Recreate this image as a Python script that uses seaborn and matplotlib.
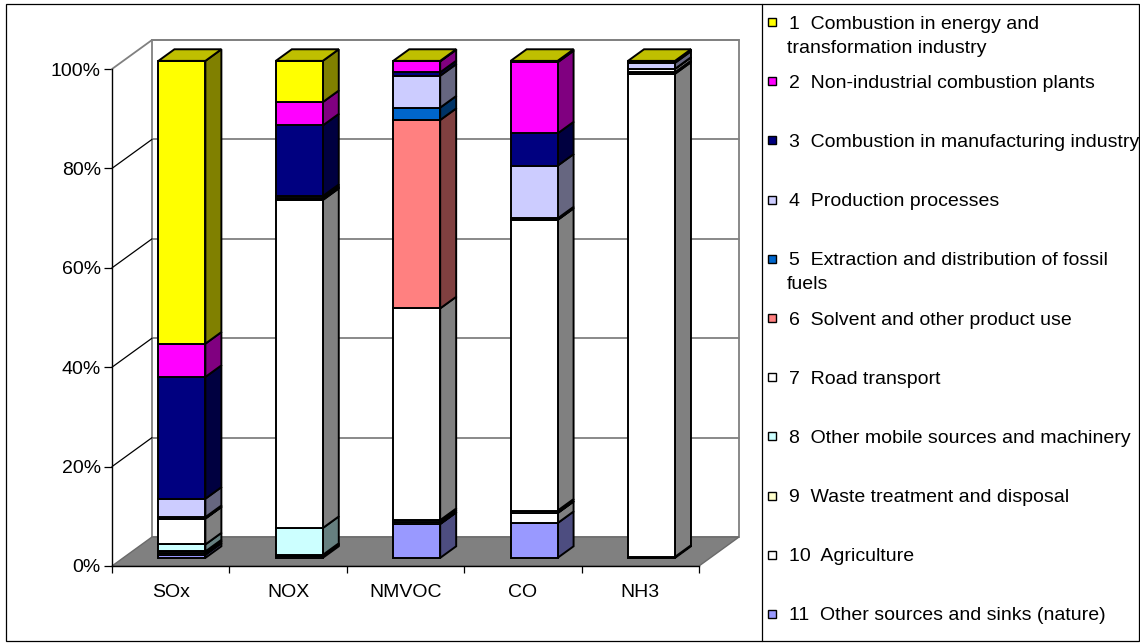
import numpy as np
import matplotlib
matplotlib.use("Agg")
import matplotlib.pyplot as plt
import seaborn as sns
from matplotlib.patches import Polygon, Rectangle
from matplotlib.colors import to_rgb

# ---------------------------------------------------------------- data
pollutants = ["SOx", "NOX", "NMVOC", "CO", "NH3"]

sector_labels = [
    "1  Combustion in energy and\ntransformation industry",
    "2  Non-industrial combustion plants",
    "3  Combustion in manufacturing industry",
    "4  Production processes",
    "5  Extraction and distribution of fossil\nfuels",
    "6  Solvent and other product use",
    "7  Road transport",
    "8  Other mobile sources and machinery",
    "9  Waste treatment and disposal",
    "10  Agriculture",
    "11  Other sources and sinks (nature)",
]

# share of each sector in total emissions (%), per pollutant
energy_industry = [56.9, 8.3, 0.1, 0.3, 0.0]
non_industrial = [6.7, 4.7, 2.2, 14.3, 0.2]
manufacturing = [24.5, 14.2, 0.7, 6.5, 0.2]
production = [3.7, 0.4, 6.4, 10.6, 1.2]
fossil_fuels = [0.2, 0.2, 2.5, 0.3, 0.0]
solvents = [0.1, 0.2, 37.9, 0.0, 0.0]
road_transport = [5.2, 66.0, 42.6, 58.5, 0.7]
other_mobile = [1.4, 5.4, 0.4, 0.4, 0.0]
waste = [0.3, 0.2, 0.3, 0.1, 0.3]
agriculture = [0.4, 0.1, 0.1, 2.0, 97.2]
nature = [0.6, 0.3, 6.8, 7.0, 0.2]

sector_values = [energy_industry, non_industrial, manufacturing, production,
                 fossil_fuels, solvents, road_transport, other_mobile,
                 waste, agriculture, nature]

sector_colors = ["#FFFF00", "#FF00FF", "#000080", "#CCCCFF", "#0066CC",
                 "#FF8080", "#FFFFFF", "#CCFFFF", "#FFFFCC", "#FFFFFF",
                 "#9999FF"]

y_ticks = [0, 20, 40, 60, 80, 100]
y_tick_labels = ["0%", "20%", "40%", "60%", "80%", "100%"]

# ---------------------------------------------------------------- style
sns.set_style("ticks")
plt.rcParams["font.family"] = ["Liberation Sans", "DejaVu Sans"]
plt.rcParams["text.color"] = "black"
FS = 14


def shade(color, k):
    r, g, b = to_rgb(color)
    return (r * k, g * k, b * k)


W, H = 1140, 644
fig = plt.figure(figsize=(W / 100, H / 100), dpi=100)
fig.patch.set_facecolor("white")

# full-figure overlay in pixel units for the frame and the legend
bg = fig.add_axes([0, 0, 1, 1])
bg.set_xlim(0, W)
bg.set_ylim(H, 0)
bg.axis("off")

ax_left, ax_bottom, ax_w, ax_h = 112, 78, 587, 497
ax = fig.add_axes([ax_left / W, ax_bottom / H, ax_w / W, ax_h / H])
ax.set_facecolor("none")
n = len(pollutants)
ax.set_xlim(-0.5, n - 0.5)
ax.set_ylim(0, 100)

# projection of the depth axis (back plane shift) in data units
DX = 40 / (ax_w / n)
DY = 29 / (ax_h / 100)
x0, x1 = -0.5, n - 0.5

# ---------------------------------------------------------------- walls
ax.add_patch(Polygon([(x0, 0), (x0, 100), (x0 + DX, 100 + DY), (x0 + DX, DY)],
                     closed=True, fc="white", ec="none", zorder=0.5, clip_on=False))
ax.add_patch(Rectangle((x0 + DX, DY), x1 - x0, 100, fc="white", ec="#808080",
                       lw=1.3, zorder=0.5, clip_on=False))
ax.add_patch(Polygon([(x0, 0), (x1, 0), (x1 + DX, DY), (x0 + DX, DY)],
                     closed=True, fc="#808080", ec="#6a6a6a", lw=1.0,
                     zorder=0.6, clip_on=False))
for v in y_ticks[1:]:
    ax.plot([x0 + DX, x1 + DX], [v + DY, v + DY], color="#808080", lw=1.3,
            zorder=0.7, clip_on=False)
    ax.plot([x0, x0 + DX], [v, v + DY],
            color="black" if v < 100 else "#808080", lw=0.9 if v < 100 else 1.3,
            zorder=0.7, clip_on=False)

# ---------------------------------------------------------------- bars
F = 0.28      # depth of the bar front faces
D = 0.40      # bar depth
BW = 0.40     # bar width
xc = np.arange(n) + F * DX
stack = np.zeros(n)
edge_kw = dict(edgecolor="black", linewidth=1.4, joinstyle="miter", clip_on=False)

for k in reversed(range(len(sector_values))):
    vals = np.asarray(sector_values[k], dtype=float)
    base = stack + F * DY
    for i in range(n):
        xr = xc[i] + BW / 2
        b, t = base[i], base[i] + vals[i]
        ax.add_patch(Polygon([(xr, b), (xr, t), (xr + D * DX, t + D * DY),
                              (xr + D * DX, b + D * DY)], closed=True,
                             fc=shade(sector_colors[k], 0.5), zorder=2.9,
                             **edge_kw))
    ax.bar(xc, vals, width=BW, bottom=base, color=sector_colors[k], zorder=3,
           **edge_kw)
    stack += vals

for i in range(n):
    xl, xr = xc[i] - BW / 2, xc[i] + BW / 2
    t = stack[i] + F * DY
    ax.add_patch(Polygon([(xl, t), (xr, t), (xr + D * DX, t + D * DY),
                          (xl + D * DX, t + D * DY)], closed=True,
                         fc=shade(sector_colors[0], 0.75), zorder=3.1,
                         **edge_kw))

# ---------------------------------------------------------------- axes
for side in ("top", "right"):
    ax.spines[side].set_visible(False)
for side in ("left", "bottom"):
    ax.spines[side].set_color("black")
    ax.spines[side].set_linewidth(1.0)

ax.set_yticks(y_ticks, y_tick_labels)
ax.set_xticks(range(n), pollutants)
ax.set_xticks(np.arange(-0.5, n), minor=True)
ax.tick_params(axis="y", which="major", left=True, length=6, width=0.9,
               pad=2, labelsize=FS, colors="black", direction="out")
ax.tick_params(axis="x", which="major", bottom=True, length=0, pad=13,
               labelsize=FS, colors="black")
ax.tick_params(axis="x", which="minor", bottom=True, length=5, width=0.9,
               direction="out", colors="black")

# ---------------------------------------------------------------- frame and legend
bg.add_patch(Rectangle((5.5, 3.5), W - 6.5, H - 6.5, fill=False, ec="black", lw=0.9))
bg.plot([762, 762], [3.5, H - 3], color="black", lw=0.9)

first_line = 22
step = 59.2
line_gap = 24
for j, (lab, col) in enumerate(zip(sector_labels, sector_colors)):
    yc = first_line + step * j
    bg.add_patch(Rectangle((768, yc - 4), 8, 8, fc=col, ec="black", lw=1.0))
    for m, line in enumerate(lab.split("\n")):
        bg.text(787 if m else 789, yc + m * line_gap, line, fontsize=FS,
                va="center_baseline", ha="left", color="black")

fig.savefig("out.png", dpi=100, facecolor="white")
